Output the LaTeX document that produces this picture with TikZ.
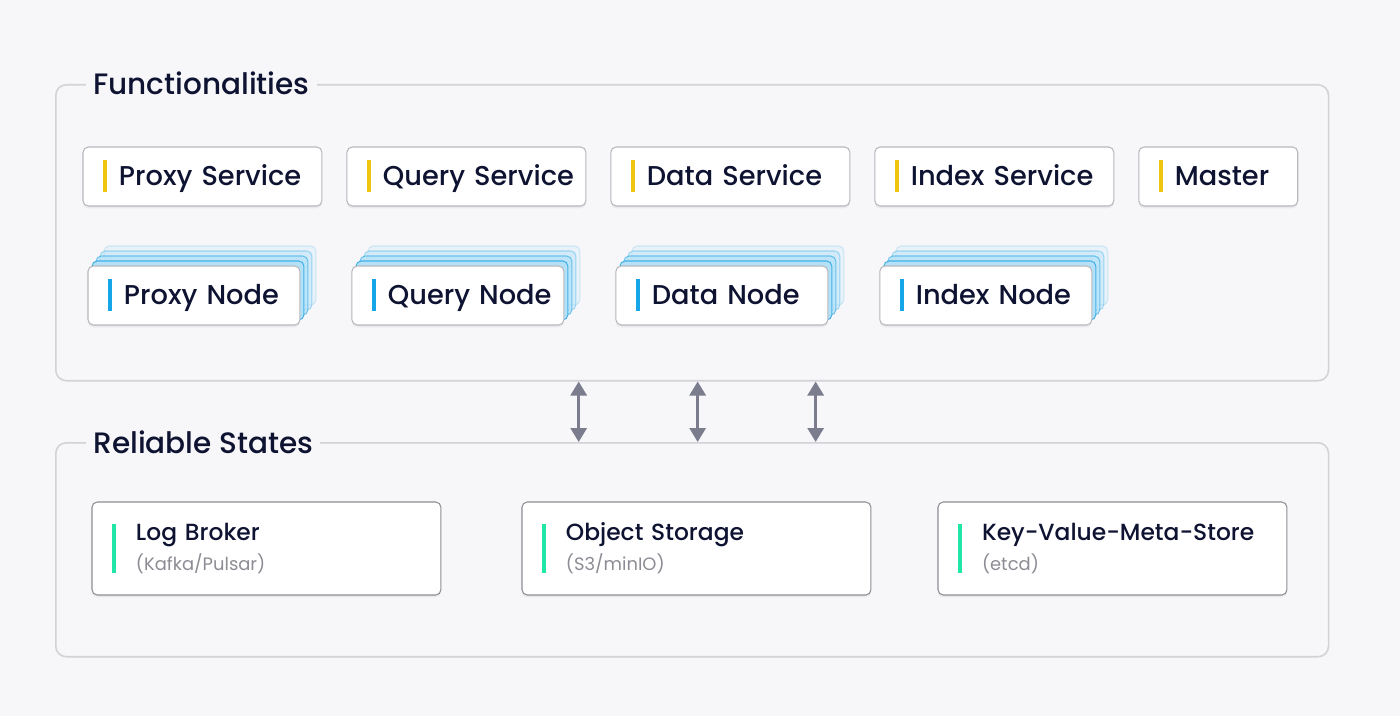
\documentclass[tikz,border=0pt]{standalone}
\usepackage{fontspec}
\IfFontExistsTF{Poppins Medium}{\setmainfont{Poppins Medium}}{\setmainfont{Poppins}}
\newfontfamily\subfont{Poppins}
\usetikzlibrary{positioning,arrows.meta,shadows}

\definecolor{bgcol}{HTML}{F7F7F9}
\definecolor{framecol}{HTML}{D2D2D7}
\definecolor{boxline}{HTML}{B8B8BD}
\definecolor{darkline}{HTML}{8E8E93}
\definecolor{ink}{HTML}{0E1332}
\definecolor{subink}{HTML}{8C8C94}
\definecolor{yellowbar}{HTML}{EEC612}
\definecolor{bluebar}{HTML}{14A6E6}
\definecolor{greenbar}{HTML}{22E6A8}
\definecolor{stackfill}{HTML}{B3E1F8}
\definecolor{stackline}{HTML}{36ACE6}
\definecolor{arrowcol}{HTML}{7B7C8D}

\begin{document}
\begin{tikzpicture}[x=0.02cm, y=-0.02cm, node distance=0.5cm,
  frame/.style={draw=framecol, line width=0.9pt, rounded corners=6pt, inner sep=0pt,
    minimum width=25.46cm, anchor=north west},
  title/.style={fill=bgcol, text=ink, inner xsep=0.14cm, inner ysep=2pt,
    font=\fontsize{16.8}{20}\selectfont, anchor=base west},
  bar/.style={path picture={\fill[#1, sharp corners] ([xshift=0.4cm,yshift=-0.32cm]path picture bounding box.west)
    rectangle ++(0.08cm,0.64cm);}},
  tallbar/.style={path picture={\fill[#1, sharp corners] ([xshift=0.4cm,yshift=-0.49cm]path picture bounding box.west)
    rectangle ++(0.08cm,0.98cm);}},
  box/.style={draw=boxline, line width=0.6pt, fill=white, rounded corners=3pt, text=ink,
    minimum height=1.18cm, inner sep=0pt, outer sep=0pt, align=left,
    execute at begin node={\leftskip=0.72cm},
    font=\fontsize{15.5}{18}\selectfont,
    drop shadow={opacity=0.05, shadow xshift=0pt, shadow yshift=-0.05cm, fill=black}},
  svc/.style={box, text width=4.78cm, text height=0.5cm, text depth=0.12cm, bar=yellowbar},
  card/.style={box, text width=4.24cm, text height=0.5cm, text depth=0.12cm, bar=bluebar,
    copy shadow={shadow xshift=0.32cm, shadow yshift=0.4cm, fill=stackfill, draw=stackline, opacity=0.2},
    copy shadow={shadow xshift=0.24cm, shadow yshift=0.3cm, fill=stackfill, draw=stackline, opacity=0.4},
    copy shadow={shadow xshift=0.16cm, shadow yshift=0.2cm, fill=stackfill, draw=stackline, opacity=0.65},
    copy shadow={shadow xshift=0.08cm, shadow yshift=0.1cm, fill=stackfill, draw=stackline, opacity=0.9}},
  store/.style={box, draw=darkline, text width=6.98cm, minimum height=1.86cm,
    execute at begin node={\leftskip=0.88cm},
    font=\fontsize{13.3}{17}\selectfont, tallbar=greenbar, anchor=north west},
  sync/.style={{Triangle[width=0.32cm,length=0.28cm]}-{Triangle[width=0.32cm,length=0.28cm]},
    draw=arrowcol, line width=0.06cm}]

  \fill[bgcol] (0,0) rectangle (1400,716);
  \useasboundingbox (0,0) rectangle (1400,716);

  % frames
  \node[frame, minimum height=5.92cm] (funcframe) at (55,84) {};
  \node[frame, minimum height=4.28cm] (stateframe) at (55,442) {};
  \node[title] (functitle) at (86,95) {Functionalities};
  \node[title] (statetitle) at (86,453) {Reliable States};

  % services
  \node[svc, anchor=north west] (proxysvc) at (83,147) {Proxy Service};
  \node[svc] (querysvc) [right=of proxysvc] {Query Service};
  \node[svc] (datasvc) [right=of querysvc] {Data Service};
  \node[svc] (indexsvc) [right=of datasvc] {Index Service};
  \node[svc, text width=3.18cm] (master) [right=of indexsvc] {Master};

  % worker nodes
  \node[card, anchor=north west] (proxynode) at (88,266) {Proxy Node};
  \node[card] (querynode) [right=1.04cm of proxynode] {Query Node};
  \node[card] (datanode) [right=1.04cm of querynode] {Data Node};
  \node[card] (indexnode) [right=1.04cm of datanode] {Index Node};

  % storage
  \node[store] (logbroker) at (92,502) {Log Broker\\{\subfont\color{subink}\fontsize{10.2}{13}\selectfont(Kafka/Pulsar)}};
  \node[store] (objstore) at (522,502) {Object Storage\\{\subfont\color{subink}\fontsize{10.2}{13}\selectfont(S3/minIO)}};
  \node[store] (kvstore) at (938,502) {Key-Value-Meta-Store\\{\subfont\color{subink}\fontsize{10.2}{13}\selectfont(etcd)}};

  \foreach \dx in {-2.27cm, 0.11cm, 2.47cm}
    \draw[sync] ([xshift=\dx]funcframe.south) -- ([xshift=\dx]stateframe.north);
\end{tikzpicture}
\end{document}
